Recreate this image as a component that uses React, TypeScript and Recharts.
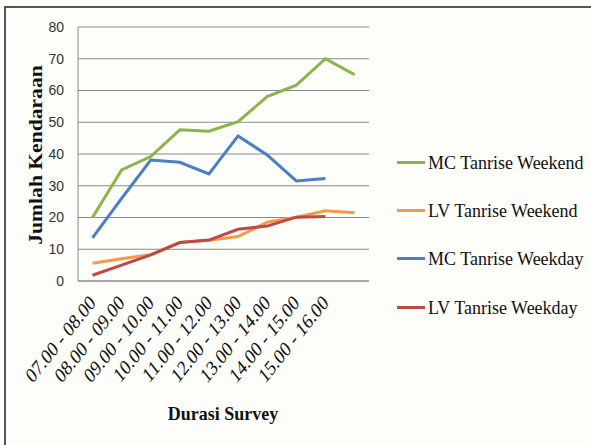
import { LineChart, Line, XAxis, YAxis, CartesianGrid } from "recharts";

const categories = [
  "07.00 - 08.00",
  "08.00 - 09.00",
  "09.00 - 10.00",
  "10.00 - 11.00",
  "11.00 - 12.00",
  "12.00 - 13.00",
  "13.00 - 14.00",
  "14.00 - 15.00",
  "15.00 - 16.00",
  "",
];

const mcWeekend = [20, 35, 39.2, 47.6, 47.2, 50.2, 58.1, 61.7, 70, 65];
const lvWeekend = [5.6, 7, 8.3, 12.1, 12.8, 14, 18.5, 20.1, 22.1, 21.5];
const mcWeekday = [13.6, 26, 38.1, 37.4, 33.7, 45.7, 39.7, 31.5, 32.3];
const lvWeekday = [1.8, 5, 8.2, 12.1, 12.9, 16.3, 17.3, 20.1, 20.3];

const yTicks = [0, 10, 20, 30, 40, 50, 60, 70, 80];

const series = [
  { key: "mcWeekend", name: "MC Tanrise Weekend", color: "#8db34c", values: mcWeekend },
  { key: "lvWeekend", name: "LV Tanrise Weekend", color: "#f59a4a", values: lvWeekend },
  { key: "mcWeekday", name: "MC Tanrise Weekday", color: "#4a7fc0", values: mcWeekday },
  { key: "lvWeekday", name: "LV Tanrise Weekday", color: "#bd4a47", values: lvWeekday },
];

const rows = categories.map((label, i) => {
  const row: Record<string, string | number | undefined> = { label };
  series.forEach((s) => {
    row[s.key] = s.values[i];
  });
  return row;
});

const serif = "'Liberation Serif', 'DejaVu Serif', serif";
// the source picture is stretched a bit vertically
const stretch = 1.25;

function XTick({ x, y, payload }: any) {
  return (
    <text
      transform={`translate(${x + 4} ${y + 15}) scale(1 ${stretch}) rotate(-45)`}
      textAnchor="end"
      fontFamily={serif}
      fontSize={17}
      fill="#111"
    >
      {payload.value}
    </text>
  );
}

export default function App() {
  return (
    <div style={{ position: "absolute", left: 0, top: 0, width: 591, height: 445, background: "#fdfdf9" }}>
      <div
        style={{
          position: "absolute",
          left: 4,
          top: 6,
          width: 600,
          height: 460,
          borderLeft: "2px solid #555",
          borderTop: "2px solid #555",
        }}
      />
      <LineChart width={591} height={445} data={rows} margin={{ top: 27, right: 222, left: 0, bottom: 0 }}>
        <CartesianGrid vertical={false} stroke="#8a8a8a" />
        <XAxis
          dataKey="label"
          interval={0}
          tickLine={false}
          stroke="#8a8a8a"
          height={164}
          padding={{ left: 14.5, right: 14.5 }}
          tick={<XTick />}
        />
        <YAxis
          width={78}
          domain={[0, 80]}
          ticks={yTicks}
          tickLine={false}
          stroke="#8a8a8a"
          tickMargin={8}
          tick={{ fontFamily: "'Liberation Sans', Arial, sans-serif", fontSize: 14, fill: "#333" }}
        />
        {series.map((s) => (
          <Line
            key={s.key}
            dataKey={s.key}
            name={s.name}
            stroke={s.color}
            strokeWidth={3}
            dot={false}
            isAnimationActive={false}
          />
        ))}
        <text
          transform={`translate(36 155) scale(1 1.2) rotate(-90)`}
          textAnchor="middle"
          dominantBaseline="central"
          fontFamily={serif}
          fontWeight="bold"
          fontSize={18}
          fill="#111"
        >
          Jumlah Kendaraan
        </text>
        <text
          transform={`translate(223 413) scale(1 1.1)`}
          textAnchor="middle"
          dominantBaseline="central"
          fontFamily={serif}
          fontWeight="bold"
          fontSize={18}
          fill="#111"
        >
          Durasi Survey
        </text>
      </LineChart>
      <div style={{ position: "absolute", left: 397, top: 138 }}>
        {series.map((s) => (
          <div key={s.key} style={{ display: "flex", alignItems: "center", height: 48.3 }}>
            <div style={{ width: 28, height: 3, background: s.color, marginRight: 3 }} />
            <span
              style={{
                fontFamily: serif,
                fontSize: 18,
                color: "#111",
                whiteSpace: "nowrap",
                display: "inline-block",
                transform: "scaleY(1.1)",
              }}
            >
              {s.name}
            </span>
          </div>
        ))}
      </div>
    </div>
  );
}
